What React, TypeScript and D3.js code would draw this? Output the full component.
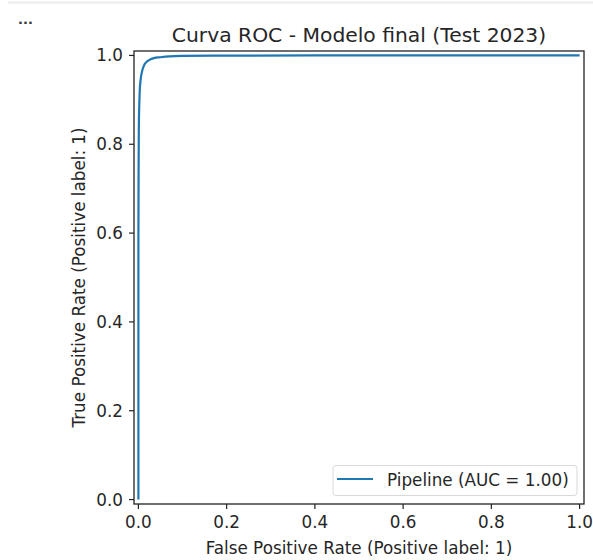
import React from "react";
import * as d3 from "d3";

// ROC curve points for the final model (test 2023)
const fpr = [0, 0, 0.0005, 0.001, 0.002, 0.003, 0.005, 0.008, 0.012, 0.018, 0.025, 0.035, 0.05, 0.07, 0.1, 0.2, 0.4, 0.7, 1.0];
const tpr = [0, 0.6, 0.76, 0.84, 0.89, 0.92, 0.945, 0.963, 0.976, 0.985, 0.99, 0.994, 0.996, 0.998, 0.999, 0.9995, 1, 1, 1];
const ticks = [0, 0.2, 0.4, 0.6, 0.8, 1.0];
const title = "Curva ROC - Modelo final (Test 2023)";
const xLabel = "False Positive Rate (Positive label: 1)";
const yLabel = "True Positive Rate (Positive label: 1)";
const legendLabel = "Pipeline (AUC = 1.00)";

const W = 593;
const H = 560;
const left = 134;
const right = 584;
const top = 51;
const bottom = 504;
const font = "'DejaVu Sans', sans-serif";
const textColor = "#262626";
const fs = 16.8;

export default function App() {
  const x = d3.scaleLinear().domain([-0.01, 1.01]).range([left, right]);
  const y = d3.scaleLinear().domain([-0.01, 1.01]).range([bottom, top]);
  const pts: [number, number][] = fpr.map((f, i) => [f, tpr[i]]);
  const line = d3
    .line<[number, number]>()
    .x((d) => x(d[0]))
    .y((d) => y(d[1]))
    .curve(d3.curveMonotoneX);

  return (
    <svg
      width={W}
      height={H}
      style={{ position: "absolute", left: 0, top: 0, background: "#fff" }}
      fontFamily={font}
    >
      <rect x={0} y={0} width={W} height={H} fill="#fff" />
      <line x1={8} x2={W} y1={2.5} y2={2.5} stroke="#ebebeb" strokeWidth={2} />
      <text x={18} y={24} fontSize={13} fill="#333" fontWeight="bold">
        ...
      </text>

      <text x={359} y={42} fontSize={20.3} textAnchor="middle" fill={textColor}>
        {title}
      </text>

      <path d={line(pts) || ""} fill="none" stroke="#1f77b4" strokeWidth={2.2} />

      <rect
        x={left}
        y={top}
        width={right - left}
        height={bottom - top}
        fill="none"
        stroke="#222"
        strokeWidth={1.3}
      />

      {ticks.map((t) => (
        <g key={"x" + t}>
          <line x1={x(t)} x2={x(t)} y1={bottom} y2={bottom + 5} stroke="#222" strokeWidth={1.2} />
          <text x={x(t)} y={bottom + 24} fontSize={fs} textAnchor="middle" fill={textColor}>
            {t.toFixed(1)}
          </text>
        </g>
      ))}
      {ticks.map((t) => (
        <g key={"y" + t}>
          <line x1={left - 5} x2={left} y1={y(t)} y2={y(t)} stroke="#222" strokeWidth={1.2} />
          <text x={left - 11} y={y(t) + 6} fontSize={fs} textAnchor="end" fill={textColor}>
            {t.toFixed(1)}
          </text>
        </g>
      ))}

      <text x={359} y={554} fontSize={fs} textAnchor="middle" fill={textColor}>
        {xLabel}
      </text>
      <text
        transform={`translate(85,${(top + bottom) / 2}) rotate(-90)`}
        fontSize={fs}
        textAnchor="middle"
        fill={textColor}
      >
        {yLabel}
      </text>

      <g>
        <rect x={333} y={465.5} width={244} height={30} rx={3} fill="#fff" stroke="#d9d9d9" strokeWidth={1} />
        <line x1={337} x2={373} y1={479} y2={479} stroke="#1f77b4" strokeWidth={2.2} />
        <text x={387} y={486} fontSize={fs} fill={textColor}>
          {legendLabel}
        </text>
      </g>
    </svg>
  );
}
